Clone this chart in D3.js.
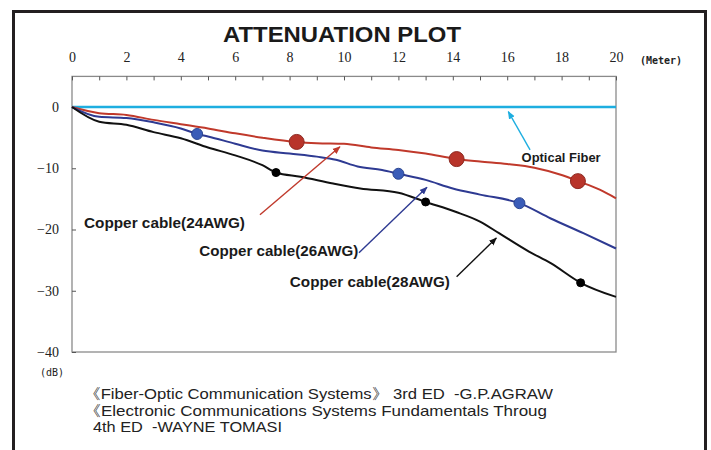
<!DOCTYPE html>
<html>
<head>
<meta charset="utf-8">
<script src="https://cdn.jsdelivr.net/npm/d3@7"></script>
<style>
  body { margin: 0; background: #fff; }
  .tick text { font-family: "Liberation Serif", serif; font-size: 14px; fill: #222; }
  .label { font-family: "Liberation Sans", Arial, sans-serif; font-weight: bold; fill: #1a1a1a; }
  .foot { font-family: "Liberation Sans Narrow", "Liberation Sans", sans-serif; font-size: 15px; fill: #222; white-space: pre; }
</style>
</head>
<body>
<div id="chart"></div>
<script>
// data (distance in meter, attenuation in dB)
var fiberX  = [0, 20];
var fiberDb = [0, 0];

var awg24X  = [0, 1, 2, 3, 4, 5, 6, 7, 8.26, 9, 10, 11, 12, 13, 14.14, 15, 16, 17, 18, 18.6, 19.4, 20];
var awg24Db = [0, -1.0, -1.3, -2.1, -2.8, -3.5, -4.3, -5.0, -5.7, -5.9, -6.0, -6.6, -7.0, -7.6, -8.5, -8.9, -9.3, -9.9, -11.1, -12.1, -13.5, -14.9];

var awg26X  = [0, 1, 2, 3, 4, 4.6, 5, 6, 7, 8, 9, 9.7, 10.5, 11.4, 12, 13, 14, 15, 16.45, 17.6, 18.8, 20];
var awg26Db = [0, -1.6, -1.8, -2.5, -3.5, -4.4, -4.8, -6.0, -7.1, -7.6, -8.1, -8.6, -9.7, -10.3, -10.9, -11.9, -13.3, -14.3, -15.7, -18.2, -20.6, -23.1];

var awg28X  = [0, 1, 2, 3, 4, 5, 6, 7, 7.5, 8.4, 9.6, 10.6, 12, 13, 14.1, 15, 15.7, 16.8, 17.6, 18.7, 20];
var awg28Db = [0, -2.4, -2.9, -4.1, -5.1, -6.6, -7.9, -9.5, -10.7, -11.4, -12.5, -13.3, -14.0, -15.5, -17.1, -18.7, -20.6, -23.6, -25.5, -28.7, -31.0];

// highlighted points on each copper curve
var dots24X = [8.26, 14.14, 18.6],  dots24Db = [-5.7, -8.5, -12.1];
var dots26X = [4.6, 12, 16.45],     dots26Db = [-4.4, -10.9, -15.7];
var dots28X = [7.5, 13.0, 18.7],    dots28Db = [-10.7, -15.5, -28.7];

var xTicks = d3.range(0, 21, 1);
var yTicks = [0, -10, -20, -30, -40];

var title = "ATTENUATION PLOT";
var footLines = [
  "\u300AFiber-Optic Communication Systems\u300B 3rd ED  -G.P.AGRAW",
  "\u300AElectronic Communications Systems Fundamentals Throug",
  "4th ED  -WAYNE TOMASI"
];

var width = 711, height = 450;

var svg = d3.select("#chart").append("svg")
  .attr("width", width)
  .attr("height", height);

svg.append("rect").attr("width", width).attr("height", height).attr("fill", "#fff");

// outer frame
svg.append("rect")
  .attr("x", 13.5).attr("y", 11.5)
  .attr("width", 692).attr("height", 460)
  .attr("fill", "none").attr("stroke", "#231f20").attr("stroke-width", 3);

var x = d3.scaleLinear().domain([0, 20]).range([72, 616]);
var y = d3.scaleLinear().domain([-40, 5]).range([352, 76.4]);

svg.append("text")
  .attr("x", 342).attr("y", 42)
  .attr("text-anchor", "middle")
  .attr("font-family", "Liberation Sans, Arial, sans-serif")
  .attr("font-weight", "bold")
  .attr("font-size", 22)
  .attr("textLength", 238)
  .attr("lengthAdjust", "spacingAndGlyphs")
  .attr("fill", "#1a1a1a")
  .text(title);

/* plot frame */
svg.append("rect")
  .attr("x", x(0)).attr("y", y(5))
  .attr("width", x(20) - x(0)).attr("height", y(-40) - y(5))
  .attr("fill", "none").attr("stroke", "#8a8a8a").attr("stroke-width", 1.3);

/* axes */
var xAxis = d3.axisTop(x)
  .tickValues(xTicks)
  .tickSizeInner(-4).tickSizeOuter(0)
  .tickPadding(14)
  .tickFormat(d => d % 2 ? "" : d);

var gx = svg.append("g")
  .attr("transform", `translate(0, ${y(5)})`)
  .call(xAxis);
gx.select(".domain").remove();
gx.selectAll(".tick line").attr("stroke", "#555");

var yAxis = d3.axisLeft(y)
  .tickValues(yTicks)
  .tickSizeInner(-4).tickSizeOuter(0)
  .tickPadding(13);

var gy = svg.append("g")
  .attr("transform", `translate(${x(0)}, 0)`)
  .call(yAxis);
gy.select(".domain").remove();
gy.selectAll(".tick line").attr("stroke", "#555");

svg.append("text")
  .attr("x", 640).attr("y", 64)
  .attr("font-family", "DejaVu Sans Mono, monospace")
  .attr("font-weight", "bold")
  .attr("font-size", 10)
  .attr("fill", "#222")
  .text("(Meter)");

svg.append("text")
  .attr("x", 40).attr("y", 376)
  .attr("font-family", "DejaVu Sans Mono, monospace")
  .attr("font-size", 10)
  .attr("fill", "#222")
  .text("(dB)");

/* series */
var series = [
  {name: "fiber", xs: fiberX, ys: fiberDb, color: "#1eaee0", w: 2.4},
  {name: "24", xs: awg24X, ys: awg24Db, color: "#c0392b", w: 2},
  {name: "26", xs: awg26X, ys: awg26Db, color: "#2e3a92", w: 2},
  {name: "28", xs: awg28X, ys: awg28Db, color: "#111", w: 2}
];

var line = d3.line()
  .x(d => x(d[0]))
  .y(d => y(d[1]))
  .curve(d3.curveMonotoneX);

svg.append("g").selectAll("path")
  .data(series).enter()
  .append("path")
  .attr("d", d => line(d.xs.map((v, i) => [v, d.ys[i]])))
  .attr("fill", "none")
  .attr("stroke", d => d.color)
  .attr("stroke-width", d => d.w)
  .attr("stroke-linejoin", "round");

var dots = [
  {xs: dots24X, ys: dots24Db, fill: "#b8342a", stroke: "#8e2a22", r: 7.5},
  {xs: dots26X, ys: dots26Db, fill: "#3a5cb8", stroke: "#2b4590", r: 5.5},
  {xs: dots28X, ys: dots28Db, fill: "#000", stroke: "#000", r: 4}
];

svg.append("g").selectAll("g")
  .data(dots).enter()
  .append("g")
  .selectAll("circle")
  .data(d => d.xs.map((v, i) => ({x: v, y: d.ys[i], fill: d.fill, stroke: d.stroke, r: d.r})))
  .enter().append("circle")
  .attr("cx", d => x(d.x))
  .attr("cy", d => y(d.y))
  .attr("r", d => d.r)
  .attr("fill", d => d.fill)
  .attr("stroke", d => d.stroke)
  .attr("stroke-width", 1);

/* annotations: label position and arrow, in data units */
var notes = [
  {text: "Optical Fiber", tx: 16.53, ty: -9.0, size: 13, len: 79, color: "#1eaee0", from: [16.84, -7.0], to: [16.04, -0.75]},
  {text: "Copper cable(24AWG)", tx: 0.44, ty: -19.7, size: 14.5, len: 161, color: "#c0392b", from: [6.91, -17.6], to: [9.85, -6.5]},
  {text: "Copper cable(26AWG)", tx: 4.68, ty: -24.4, size: 14.5, len: 159, color: "#2e3a92", from: [10.55, -23.8], to: [13.05, -13.1]},
  {text: "Copper cable(28AWG)", tx: 8.01, ty: -29.4, size: 14.5, len: 160, color: "#111", from: [14.14, -27.7], to: [15.6, -21.4]}
];

var defs = svg.append("defs");
notes.forEach(function(n, i) {
  defs.append("marker")
    .attr("id", "arr" + i)
    .attr("viewBox", "0 0 10 10")
    .attr("refX", 9).attr("refY", 5)
    .attr("markerWidth", 8).attr("markerHeight", 8)
    .attr("markerUnits", "userSpaceOnUse")
    .attr("orient", "auto")
    .append("path")
    .attr("d", "M0,1 L10,5 L0,9 Z")
    .attr("fill", n.color);
});

var ann = svg.append("g");
ann.selectAll("line")
  .data(notes).enter()
  .append("line")
  .attr("x1", d => x(d.from[0])).attr("y1", d => y(d.from[1]))
  .attr("x2", d => x(d.to[0])).attr("y2", d => y(d.to[1]))
  .attr("stroke", d => d.color)
  .attr("stroke-width", 1.4)
  .attr("marker-end", (d, i) => `url(#arr${i})`);

ann.selectAll("text")
  .data(notes).enter()
  .append("text")
  .attr("class", "label")
  .attr("x", d => x(d.tx)).attr("y", d => y(d.ty))
  .attr("font-size", d => d.size)
  .attr("textLength", d => d.len)
  .attr("lengthAdjust", "spacingAndGlyphs")
  .text(d => d.text);

/* references under the chart */
var footX = [84, 84, 93];
var footLen = [469, 463, 189];
svg.append("g").selectAll("text")
  .data(footLines).enter()
  .append("text")
  .attr("class", "foot")
  .attr("x", (d, i) => footX[i])
  .attr("y", (d, i) => 399 + i * 16.5)
  .attr("textLength", (d, i) => footLen[i])
  .attr("lengthAdjust", "spacingAndGlyphs")
  .text(d => d);
</script>
</body>
</html>
